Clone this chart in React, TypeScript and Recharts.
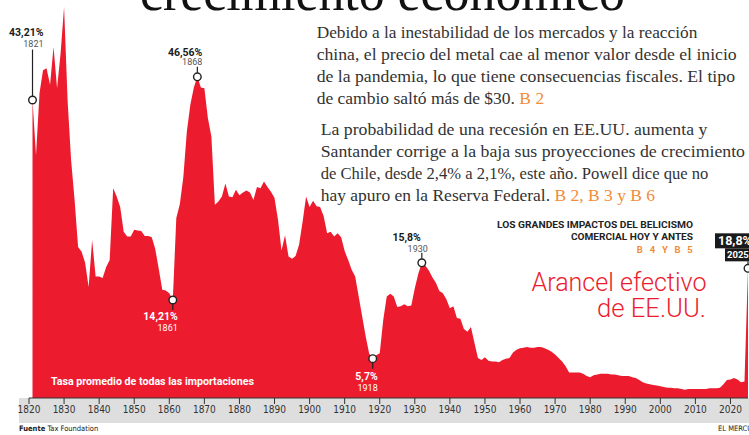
import React from "react";
import { AreaChart, Area, XAxis, YAxis, ReferenceDot } from "recharts";

// Average tariff rate on all US imports (%), one value per year from 1821
const firstYear = 1821;
const tariffRates = [
  43.2, 35.2, 44.2, 47.5, 47.8, 45.4, 50.9, 44.9, 49.9, 56.7, // 1821-1830
  43.2, 34.5, 28.7, 21.9, 21.2, 19.6, 16.1, 22.9, 17.6, 17.6, // 1831-1840
  17.4, 19.0, 20.0, 30.4, 29.2, 27.7, 24.1, 23.4, 23.4, 24.4, // 1841-1850
  24.3, 24.2, 23.5, 23.5, 23.3, 21.6, 18.7, 15.7, 15.6, 15.2, // 1851-1860
  14.21, 26.1, 28.1, 32.0, 38.6, 42.5, 45.0, 46.56, 45.0, 44.9, // 1861-1870
  40.6, 37.9, 28.0, 28.5, 29.2, 31.1, 29.2, 29.1, 30.2, 29.4, // 1871-1880
  29.8, 30.1, 29.8, 28.7, 30.6, 30.4, 31.4, 30.6, 29.9, 29.0, // 1881-1890
  25.8, 21.4, 23.6, 20.5, 20.2, 20.6, 22.2, 25.5, 29.2, 27.7, // 1891-1900
  28.6, 27.8, 27.7, 26.4, 23.9, 24.1, 23.4, 23.9, 23.3, 21.3, // 1901-1910
  20.0, 18.6, 17.6, 14.7, 11.8, 8.9, 6.4, 5.7, 6.2, 6.5, // 1911-1920
  11.3, 14.7, 15.1, 14.7, 13.2, 13.3, 13.6, 13.3, 13.4, 15.9, // 1921-1930
  18.0, 19.6, 19.2, 18.5, 17.5, 16.7, 15.5, 15.2, 14.3, 13.0, // 1931-1940
  13.3, 11.6, 11.5, 10.0, 9.6, 10.3, 8.0, 5.8, 5.5, 5.9, // 1941-1950
  5.4, 5.3, 5.3, 5.2, 5.5, 5.7, 5.8, 6.6, 7.0, 7.2, // 1951-1960
  7.3, 7.4, 7.3, 7.3, 7.4, 7.4, 7.2, 7.0, 6.7, 6.3, // 1961-1970
  5.8, 5.3, 4.6, 3.7, 3.7, 3.7, 3.7, 3.5, 3.2, 3.0, // 1971-1980
  3.3, 3.4, 3.5, 3.5, 3.5, 3.4, 3.4, 3.3, 3.2, 3.2, // 1981-1990
  3.2, 3.0, 2.9, 2.6, 2.3, 2.1, 2.0, 1.9, 1.8, 1.7, // 1991-2000
  1.6, 1.5, 1.5, 1.4, 1.4, 1.3, 1.2, 1.3, 1.3, 1.3, // 2001-2010
  1.3, 1.3, 1.3, 1.4, 1.4, 1.4, 1.5, 2.0, 2.6, 2.7, // 2011-2020
  2.9, 2.7, 2.3, 2.4, 18.8, // 2021-2025
];

const xTicks = [
  1820, 1830, 1840, 1850, 1860, 1870, 1880, 1890, 1900, 1910, 1920,
  1930, 1940, 1950, 1960, 1970, 1980, 1990, 2000, 2010, 2020,
];

// highlighted points: [year in the data, label shown, year shown]
const callouts = [
  { year: 1821, label: "43,21%", yearLabel: "1821" },
  { year: 1861, label: "14,21%", yearLabel: "1861" },
  { year: 1868, label: "46,56%", yearLabel: "1868" },
  { year: 1918, label: "5,7%", yearLabel: "1918" },
  { year: 1932, label: "15,8%", yearLabel: "1930" },
  { year: 2025, label: "18,8%", yearLabel: "2025" },
];

const para1 = [
  "Debido a la inestabilidad de los mercados y la reacción",
  "china, el precio del metal cae al menor valor desde el inicio",
  "de la pandemia, lo que tiene consecuencias fiscales. El tipo",
  "de cambio saltó más de $30.",
];
const para2 = [
  "La probabilidad de una recesión en EE.UU. aumenta y",
  "Santander corrige a la baja sus proyecciones de crecimiento",
  "de Chile, desde 2,4% a 2,1%, este año. Powell dice que no",
  "hay apuro en la Reserva Federal.",
];

const data = tariffRates.map((rate, i) => ({ year: firstYear + i, rate }));
const rateAt = (y: number) => tariffRates[y - firstYear];

const RED = "#ec1c2e";
const ORANGE = "#f28c3a";
const SERIF = "'Liberation Serif', 'DejaVu Serif', serif";
const SANS = "Roboto, 'Liberation Sans', sans-serif";
const NARROW = "'Liberation Sans Narrow', 'DejaVu Sans Condensed', Roboto, sans-serif";

// where each label sits around its dot
const layout: Record<string, any> = {
  "1821": { below: false, vx: 11, yx: 11, vy: -64, yy: -53.5, l1: -50.5, l2: -4 },
  "1868": { below: false, vx: 5, yx: 5, vy: -21, yy: -11.5, l1: -10, l2: -4 },
  "1930": { below: false, vx: -1, yx: 6, vy: -21.5, yy: -11, l1: -10, l2: -4 },
  "1861": { below: true, vx: 5, yx: 5, vy: 20.5, yy: 31, l1: 4, l2: 10 },
  "1918": { below: true, vx: 5, yx: 5, vy: 21.5, yy: 32, l1: 4, l2: 10 },
};

function Callout({ cx, cy, c }: any) {
  if (cx == null || cy == null) return null;
  if (c.yearLabel === "2025") {
    return (
      <g>
        <rect x={cx - 33} y={cy - 35} width={40} height={15} fill="#1a1a1a" />
        <rect x={cx - 23} y={cy - 20} width={30} height={13} fill="#1a1a1a" />
        <text x={cx - 30} y={cy - 23.5} fill="#fff" fontFamily={SANS} fontWeight={700} fontSize={12.5}>
          {c.label}
        </text>
        <text x={cx - 21} y={cy - 10} fill="#fff" fontFamily={SANS} fontWeight={700} fontSize={9.5}>
          {c.yearLabel}
        </text>
        <line x1={cx} x2={cx} y1={cy - 7} y2={cy - 4} stroke="#222" strokeWidth={1.2} />
        <circle cx={cx} cy={cy} r={3.8} fill="#fff" stroke="#222" strokeWidth={1.4} />
      </g>
    );
  }
  const L = layout[c.yearLabel];
  const valueFill = L.below ? "#fff" : "#1a1a1a";
  const yearFill = L.below ? "#fff" : "#555";
  return (
    <g>
      <line x1={cx} x2={cx} y1={cy + L.l1} y2={cy + L.l2} stroke="#222" strokeWidth={1.2} />
      <circle cx={cx} cy={cy} r={3.8} fill="#fff" stroke="#222" strokeWidth={1.4} />
      <text x={cx + L.vx} y={cy + L.vy} textAnchor="end" fill={valueFill} fontFamily={SANS} fontWeight={700} fontSize={10.5}>
        {c.label}
      </text>
      <text x={cx + L.yx} y={cy + L.yy} textAnchor="end" fill={yearFill} fontFamily={SANS} fontSize={9}>
        {c.yearLabel}
      </text>
    </g>
  );
}

export default function App() {
  return (
    <div style={{ position: "absolute", left: 0, top: 0, width: 749, height: 435, overflow: "hidden", background: "#fff" }}>
      <div style={{ position: "absolute", left: 19, top: 398, width: 730, height: 25, background: "#dedede" }} />
      <div style={{ position: "absolute", left: 0, top: 0 }}>
        <AreaChart width={749} height={435} data={data} margin={{ top: 0, right: 1, bottom: 12, left: 29 }}>
          <XAxis
            dataKey="year"
            type="number"
            domain={[1820, 2025]}
            ticks={xTicks}
            interval={0}
            height={25}
            tickSize={6}
            tickMargin={2}
            axisLine={{ stroke: "#333" }}
            tickLine={{ stroke: "#333" }}
            tick={{ fontSize: 10, fill: "#333", fontFamily: NARROW }}
          />
          <YAxis hide domain={[0, 57.7]} allowDataOverflow />
          <Area
            type="linear"
            dataKey="rate"
            fill={RED}
            fillOpacity={1}
            stroke="none"
            isAnimationActive={false}
          />
          {callouts.map((c) => (
            <ReferenceDot
              key={c.yearLabel}
              x={c.year}
              y={rateAt(c.year)}
              r={4}
              ifOverflow="visible"
              shape={(p: any) => <Callout cx={p.cx} cy={p.cy} c={c} />}
            />
          ))}
        </AreaChart>
      </div>
      <svg width={749} height={435} style={{ position: "absolute", left: 0, top: 0, pointerEvents: "none" }}>
        <text x={140} y={10} fontFamily={SERIF} fontSize={54} fill="#111" textLength={485} lengthAdjust="spacingAndGlyphs">
          crecimiento económico
        </text>
        {para1.map((t, i) => (
          <text key={t} x={316.7} y={37.5 + i * 22} fontFamily={SERIF} fontSize={17.5} fill="#333"
            textLength={[380.6, 420, 418.3, 0][i] || undefined} lengthAdjust="spacingAndGlyphs">
            {t}
            {i === 3 && <tspan fill={ORANGE}> B 2</tspan>}
          </text>
        ))}
        {para2.map((t, i) => (
          <text key={t} x={320.7} y={135 + i * 22} fontFamily={SERIF} fontSize={17.5} fill="#333"
            textLength={[386.6, 424.3, 387.6, 0][i] || undefined} lengthAdjust="spacingAndGlyphs">
            {t}
            {i === 3 && <tspan fill={ORANGE}> B 2, B 3 y B 6</tspan>}
          </text>
        ))}
        <text x={497} y={227.5} fontFamily={SANS} fontWeight={700} fontSize={9.5} fill="#222"
          textLength={196} lengthAdjust="spacingAndGlyphs">
          LOS GRANDES IMPACTOS DEL BELICISMO
        </text>
        <text x={571} y={240} fontFamily={SANS} fontWeight={700} fontSize={9.5} fill="#222"
          textLength={122} lengthAdjust="spacingAndGlyphs">
          COMERCIAL HOY Y ANTES
        </text>
        <text x={695} y={252.5} textAnchor="end" fontFamily={SANS} fontWeight={700} fontSize={9.5} fill={ORANGE} letterSpacing={2.2}>
          B 4 Y B 5
        </text>
        <text x={531.5} y={290.5} fontFamily={SANS} fontWeight={300} fontSize={25.5} fill={RED}
          textLength={175} lengthAdjust="spacingAndGlyphs">
          Arancel efectivo
        </text>
        <text x={597} y={316.5} fontFamily={SANS} fontWeight={300} fontSize={25.5} fill={RED}
          textLength={109} lengthAdjust="spacingAndGlyphs">
          de EE.UU.
        </text>
        <text x={51} y={385} fontFamily={SANS} fontWeight={700} fontSize={10.5} fill="#fff"
          textLength={203} lengthAdjust="spacingAndGlyphs">
          Tasa promedio de todas las importaciones
        </text>
        <text x={19} y={430.5} fontFamily={NARROW} fontSize={7.5} fill="#222">
          <tspan fontWeight={700}>Fuente</tspan> Tax Foundation
        </text>
        <text x={718} y={430.5} fontFamily={NARROW} fontSize={7.5} fill="#222">
          EL MERCURIO
        </text>
      </svg>
    </div>
  );
}
